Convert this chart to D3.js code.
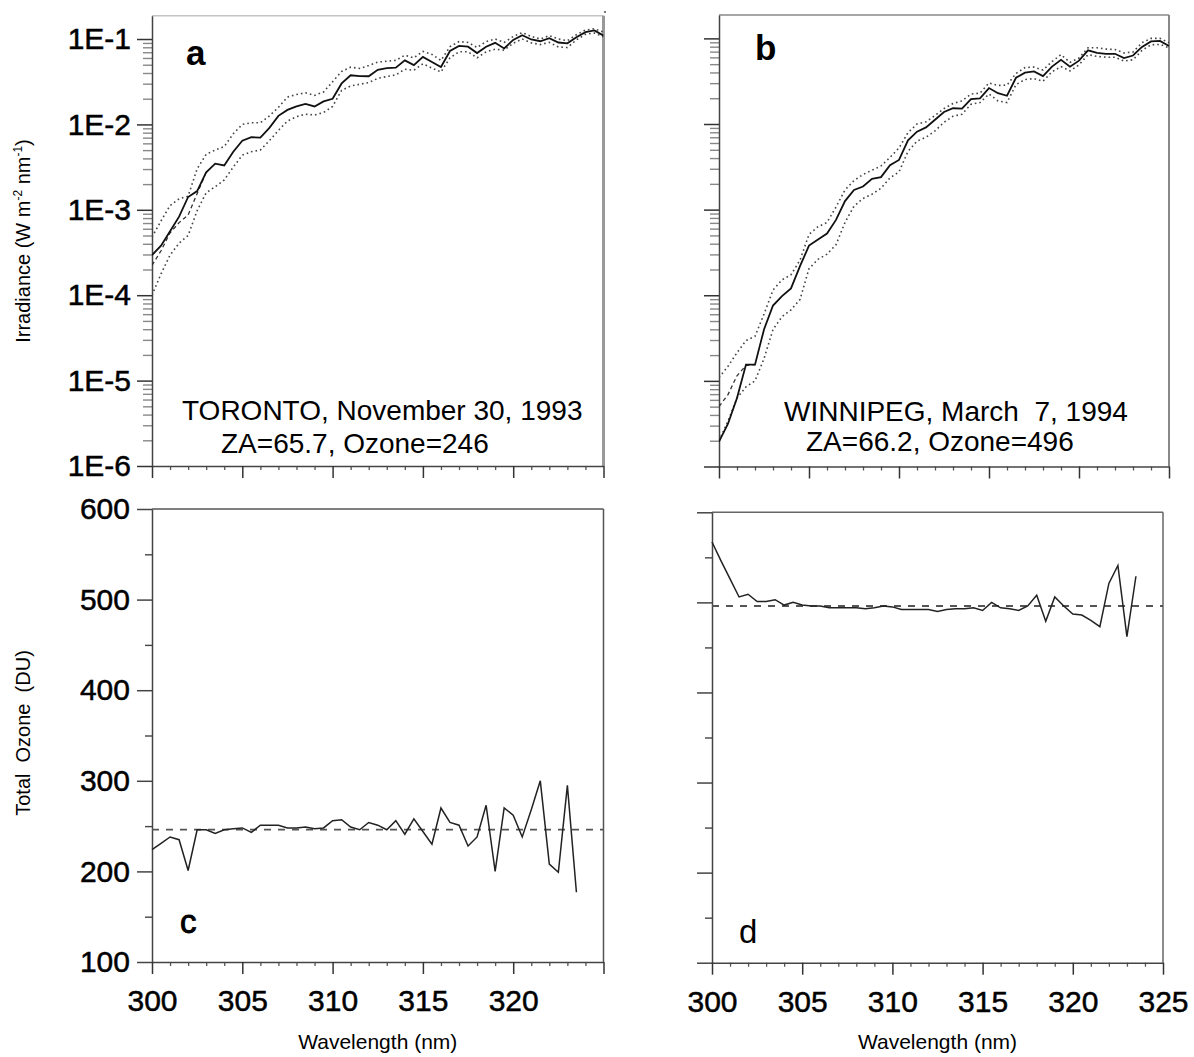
<!DOCTYPE html>
<html>
<head>
<meta charset="utf-8">
<script src="https://cdn.jsdelivr.net/npm/d3@7"></script>
<style>
  body { margin: 0; background: #fff; }
  text { font-family: "Liberation Sans", Arial, Helvetica, sans-serif; fill: #000; }
</style>
</head>
<body>
<svg id="chart" width="1194" height="1057"></svg>
<script>
// wavelength grid (nm), 0.5 nm steps
const waveGrid = [300,300.5,301,301.5,302,302.5,303,303.5,304,304.5,305,305.5,306,306.5,307,307.5,308,308.5,309,309.5,
  310,310.5,311,311.5,312,312.5,313,313.5,314,314.5,315,315.5,316,316.5,317,317.5,318,318.5,319,319.5,
  320,320.5,321,321.5,322,322.5,323,323.5,324,324.5,325];

// irradiance, stored as log10(W m-2 nm-1)
const torontoMeas = [-3.53,-3.42,-3.25,-3.08,-2.85,-2.78,-2.56,-2.46,-2.48,-2.32,-2.19,-2.15,-2.155,-2.04,-1.90,-1.83,-1.79,-1.76,-1.79,-1.73,
  -1.70,-1.52,-1.425,-1.435,-1.436,-1.36,-1.34,-1.335,-1.25,-1.305,-1.21,-1.27,-1.327,-1.14,-1.08,-1.09,-1.165,-1.09,-1.045,-1.11,
  -1.01,-0.955,-1.005,-1.026,-0.99,-1.041,-1.05,-0.98,-0.92,-0.9,-0.96];
const torontoUpper = [-3.32,-3.13,-2.95,-2.87,-2.84,-2.52,-2.35,-2.30,-2.26,-2.11,-2.00,-1.98,-1.98,-1.90,-1.80,-1.68,-1.65,-1.63,-1.66,-1.62,
  -1.50,-1.38,-1.33,-1.345,-1.31,-1.27,-1.26,-1.25,-1.19,-1.22,-1.145,-1.18,-1.25,-1.09,-1.03,-1.04,-1.10,-1.03,-1.00,-1.04,
  -0.97,-0.925,-0.97,-1.0,-0.96,-1.0,-1.02,-0.95,-0.895,-0.88,-0.92];
const torontoLower = [-4.0,-3.75,-3.53,-3.39,-3.30,-3.01,-2.80,-2.73,-2.65,-2.50,-2.36,-2.32,-2.30,-2.19,-2.07,-1.96,-1.91,-1.88,-1.89,-1.86,
  -1.79,-1.60,-1.55,-1.53,-1.51,-1.46,-1.44,-1.42,-1.354,-1.366,-1.29,-1.34,-1.386,-1.22,-1.15,-1.15,-1.22,-1.15,-1.12,-1.13,
  -1.05,-1.0,-1.045,-1.065,-1.04,-1.093,-1.10,-1.01,-0.945,-0.93,-0.975];
const torontoModel = [-3.65,-3.48,-3.27,-3.15,-3.06,-2.81,-2.56];   // 300..303 nm

const winnipegMeas = [-5.71,-5.50,-5.20,-4.81,-4.81,-4.40,-4.12,-4.01,-3.92,-3.66,-3.42,-3.35,-3.28,-3.12,-2.90,-2.77,-2.73,-2.64,-2.62,-2.48,
  -2.42,-2.19,-2.09,-2.04,-1.95,-1.86,-1.816,-1.82,-1.71,-1.70,-1.58,-1.64,-1.67,-1.46,-1.40,-1.385,-1.44,-1.33,-1.25,-1.33,
  -1.26,-1.14,-1.17,-1.18,-1.18,-1.23,-1.20,-1.10,-1.035,-1.03,-1.09];
const winnipegUpper = [-4.96,-4.83,-4.67,-4.53,-4.48,-4.22,-3.94,-3.82,-3.76,-3.59,-3.29,-3.20,-3.15,-2.97,-2.77,-2.66,-2.59,-2.54,-2.49,-2.39,
  -2.28,-2.10,-2.00,-1.975,-1.90,-1.82,-1.76,-1.73,-1.65,-1.64,-1.52,-1.55,-1.545,-1.41,-1.34,-1.335,-1.37,-1.27,-1.19,-1.28,
  -1.23,-1.11,-1.11,-1.125,-1.13,-1.17,-1.16,-1.05,-1.0,-1.0,-1.05];
const winnipegLower = [-5.70,-5.47,-5.20,-5.07,-5.00,-4.74,-4.40,-4.25,-4.17,-4.05,-3.69,-3.58,-3.52,-3.41,-3.15,-2.96,-2.87,-2.82,-2.75,-2.63,
  -2.56,-2.32,-2.20,-2.155,-2.08,-1.98,-1.91,-1.885,-1.77,-1.75,-1.65,-1.73,-1.75,-1.54,-1.48,-1.47,-1.50,-1.39,-1.33,-1.38,
  -1.31,-1.19,-1.21,-1.22,-1.22,-1.265,-1.25,-1.14,-1.075,-1.07,-1.11];
const winnipegModel = [-5.30,-5.16,-4.94,-4.82,-4.81];   // 300..302 nm

// retrieved total ozone (DU), 300..323.5 nm
const torontoOzone = [224,231,238,235,201,246,246,242,246,247,248,243,251,251,251,248,248,249,247,248,
  256,257,249,246,254,251,246,256,241,258,244,230,270,254,251,228,238,273,200,270,
  262,238,268,300,208,199,295,177];
const winnipegOzone = [567,546,526,506,509,501,501,503,497,500,497,496,496,494,494,494,494,493,494,496,
  495,492,492,492,492,490,492,493,493,494,491,500,494,493,491,496,508,479,506,496,
  487,486,480,473,521,541,462,529];
const torontoTotal = 246;
const winnipegTotal = 496;

const decadeTicks = [1e-6, 1e-5, 1e-4, 1e-3, 1e-2, 1e-1];
const ozoneTicks = [100, 200, 300, 400, 500, 600];
const ozoneMinor = [150, 250, 350, 450, 550];
const waveMajor = [300, 305, 310, 315, 320, 325];
const waveMinor = [301,302,303,304,306,307,308,309,311,312,313,314,316,317,318,319,321,322,323,324];

const svg = d3.select("#chart");
svg.append("rect").attr("width", 1194).attr("height", 1057).attr("fill", "#fff");

const logTop = 0.1875;

// heavier look of the scanned tick numbers
function tickText(sel) {
  sel.attr("font-size", 30).attr("fill", "#000").attr("stroke", "#000").attr("stroke-width", 0.5);
}

function bottomAxis(g, x, p, labels) {
  g.append("g").attr("transform", `translate(0,${p.y1})`)
    .call(d3.axisBottom(x).tickValues(waveMinor).tickSize(4).tickFormat(""))
    .call(s => s.select(".domain").remove())
    .selectAll("line").attr("stroke", "#555").attr("stroke-width", 1.3);

  const ax = g.append("g").attr("transform", `translate(0,${p.y1})`)
    .call(d3.axisBottom(x).tickValues(waveMajor).tickSize(12).tickSizeOuter(0).tickPadding(16)
      .tickFormat(d => labels && labels.includes(d) ? d : ""));
  ax.select(".domain").attr("stroke", "#444").attr("stroke-width", 1.5);
  ax.selectAll("line").attr("stroke", "#333").attr("stroke-width", 1.5);
  ax.selectAll("text").call(tickText);
}

function frame(g, p, topColor, rightColor, rightWidth) {
  g.append("line").attr("x1", p.x0).attr("x2", p.x1).attr("y1", p.y0).attr("y2", p.y0)
    .attr("stroke", topColor).attr("stroke-width", 1.5);
  g.append("line").attr("x1", p.x1).attr("x2", p.x1).attr("y1", p.y0).attr("y2", p.y1)
    .attr("stroke", rightColor).attr("stroke-width", rightWidth);
}

function irradiancePanel(p) {
  const x = d3.scaleLinear().domain([300, 325]).range([p.x0, p.x1]);
  const y = d3.scaleLog().domain([1e-6, logTop]).range([p.y1, p.y0]);
  const g = svg.append("g");

  frame(g, p, p.topColor, p.rightColor, p.rightWidth);

  const minors = [];
  decadeTicks.forEach(d => { for (let m = 2; m <= 9; m++) if (m * d <= logTop) minors.push(m * d); });
  g.append("g").attr("transform", `translate(${p.x0},0)`)
    .call(d3.axisLeft(y).tickValues(minors).tickSize(9).tickFormat(""))
    .call(s => s.select(".domain").remove())
    .selectAll("line").attr("stroke", "#888").attr("stroke-width", 1.4);

  const ay = g.append("g").attr("transform", `translate(${p.x0},0)`)
    .call(d3.axisLeft(y).tickValues(decadeTicks).tickSize(15).tickSizeOuter(0).tickPadding(6)
      .tickFormat(d => p.labels ? "1E" + Math.round(Math.log10(d)) : ""));
  ay.select(".domain").attr("stroke", "#444").attr("stroke-width", 1.5);
  ay.selectAll("line").attr("stroke", "#333").attr("stroke-width", 1.5);
  ay.selectAll("text").call(tickText);

  bottomAxis(g, x, p, null);

  const clipId = "clip" + p.name;
  svg.append("clipPath").attr("id", clipId).append("rect")
    .attr("x", p.x0).attr("y", p.y0).attr("width", p.x1 - p.x0).attr("height", p.y1 - p.y0);
  const plot = g.append("g").attr("clip-path", `url(#${clipId})`);

  const line = d3.line().x((d, i) => x(waveGrid[i])).y(d => y(Math.pow(10, d)));

  [p.upper, p.lower].forEach(s => {
    plot.append("path").datum(s).attr("d", line).attr("fill", "none")
      .attr("stroke", "#444").attr("stroke-width", 1.6).attr("stroke-dasharray", "1.6,3");
  });
  plot.append("path").datum(p.model).attr("d", line).attr("fill", "none")
    .attr("stroke", "#333").attr("stroke-width", 1.3).attr("stroke-dasharray", "4,3");
  plot.append("path").datum(p.meas).attr("d", line).attr("fill", "none")
    .attr("stroke", "#111").attr("stroke-width", 1.8);

  g.append("text").attr("x", p.tag[0]).attr("y", p.tag[1]).attr("font-size", 35)
    .attr("font-weight", "bold").text(p.name);
  g.append("text").attr("x", p.l1[0]).attr("y", p.l1[1]).attr("font-size", 28)
    .style("white-space", "pre").text(p.line1);
  g.append("text").attr("x", p.l2[0]).attr("y", p.l2[1]).attr("font-size", 28)
    .text(p.line2);
}

function ozonePanel(p) {
  const x = d3.scaleLinear().domain([300, 325]).range([p.x0, p.x1]);
  const y = d3.scaleLinear().domain([100, 600]).range([p.y1, p.y0]);
  const g = svg.append("g");

  frame(g, p, p.topColor, p.rightColor, 1.5);

  g.append("g").attr("transform", `translate(${p.x0},0)`)
    .call(d3.axisLeft(y).tickValues(ozoneMinor).tickSize(7).tickFormat(""))
    .call(s => s.select(".domain").remove())
    .selectAll("line").attr("stroke", "#444").attr("stroke-width", 1.4);

  const ay = g.append("g").attr("transform", `translate(${p.x0},0)`)
    .call(d3.axisLeft(y).tickValues(ozoneTicks).tickSize(15).tickSizeOuter(0).tickPadding(7)
      .tickFormat(d => p.labels ? d : ""));
  ay.select(".domain").attr("stroke", "#444").attr("stroke-width", 1.5);
  ay.selectAll("line").attr("stroke", "#444").attr("stroke-width", 1.5);
  ay.selectAll("text").call(tickText);

  bottomAxis(g, x, p, p.xLabels);

  g.append("line").attr("x1", x(300)).attr("x2", x(325))
    .attr("y1", y(p.total)).attr("y2", y(p.total))
    .attr("stroke", "#555").attr("stroke-width", 1.8).attr("stroke-dasharray", "7,7");

  const line = d3.line().x((d, i) => x(waveGrid[i])).y(d => y(d));
  g.append("path").datum(p.ozone).attr("d", line).attr("fill", "none")
    .attr("stroke", "#222").attr("stroke-width", 1.5);

  g.append("text").attr("x", p.tag[0]).attr("y", p.tag[1]).attr("font-size", 33)
    .attr("stroke", "#000").attr("stroke-width", p.tagStroke).text(p.name);

  g.append("text").attr("x", (p.x0 + p.x1) / 2).attr("y", 1049).attr("text-anchor", "middle")
    .attr("font-size", 21).attr("fill", "#222").text("Wavelength (nm)");
}

irradiancePanel({ name: "a", x0: 152, x1: 603.5, y0: 15.7, y1: 466, labels: true,
  topColor: "#c4c4c4", rightColor: "#999", rightWidth: 3,
  meas: torontoMeas, upper: torontoUpper, lower: torontoLower, model: torontoModel,
  tag: [186, 65], line1: "TORONTO, November 30, 1993", l1: [182, 420],
  line2: "ZA=65.7, Ozone=246", l2: [221, 453] });

irradiancePanel({ name: "b", x0: 719, x1: 1169, y0: 15, y1: 466.5, labels: false,
  topColor: "#888", rightColor: "#888", rightWidth: 2,
  meas: winnipegMeas, upper: winnipegUpper, lower: winnipegLower, model: winnipegModel,
  tag: [755, 60], line1: "WINNIPEG, March  7, 1994", l1: [784, 421],
  line2: "ZA=66.2, Ozone=496", l2: [806, 451] });

ozonePanel({ name: "c", x0: 152, x1: 603.5, y0: 509, y1: 962, labels: true,
  topColor: "#555", rightColor: "#555", xLabels: [300, 305, 310, 315, 320],
  ozone: torontoOzone, total: torontoTotal, tag: [180, 933], tagStroke: 0.9 });

ozonePanel({ name: "d", x0: 712, x1: 1163, y0: 512.3, y1: 962.7, labels: false,
  topColor: "#666", rightColor: "#666", xLabels: [300, 305, 310, 315, 320, 325],
  ozone: winnipegOzone, total: winnipegTotal, tag: [739, 943], tagStroke: 0 });

// small stray mark above the top-right corner of panel a
svg.append("rect").attr("x", 604).attr("y", 11).attr("width", 2).attr("height", 2).attr("fill", "#777");

// y axis titles
const irrTitle = svg.append("text").attr("transform", "translate(30,241) rotate(-90)")
  .attr("text-anchor", "middle").attr("font-size", 20).attr("fill", "#222");
irrTitle.append("tspan").text("Irradiance (W m");
irrTitle.append("tspan").attr("font-size", 12).attr("dy", -8).text("-2");
irrTitle.append("tspan").attr("dy", 8).text(" nm");
irrTitle.append("tspan").attr("font-size", 12).attr("dy", -8).text("-1");
irrTitle.append("tspan").attr("dy", 8).text(")");

svg.append("text").attr("transform", "translate(30,733) rotate(-90)")
  .attr("text-anchor", "middle").attr("font-size", 20).attr("fill", "#222")
  .style("white-space", "pre").text("Total  Ozone  (DU)");
</script>
</body>
</html>
